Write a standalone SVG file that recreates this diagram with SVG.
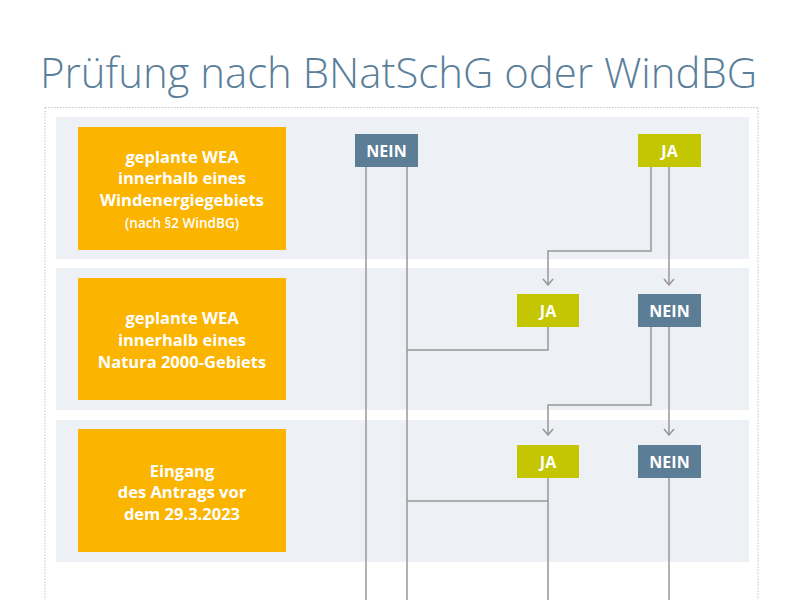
<svg xmlns="http://www.w3.org/2000/svg" width="800" height="600" viewBox="0 0 800 600">
<defs>
<style>
.band{fill:#edf0f5}
.q{fill:#fbb400}
.qt{fill:#fff;font-family:"Open Sans","Liberation Sans",sans-serif;font-weight:700;font-size:16.5px;text-anchor:middle}
.qs{font-size:13.5px;font-weight:600}
.ja{fill:#c3c600}
.nein{fill:#5b7d96}
.bt{fill:#fff;font-family:"Open Sans","Liberation Sans",sans-serif;font-weight:700;font-size:16px;text-anchor:middle}
.ln{fill:none;stroke:#9b9597;stroke-width:1.5}
</style>
<marker id="arr" viewBox="0 0 10 12" refX="9" refY="6" markerWidth="10" markerHeight="12" markerUnits="userSpaceOnUse" orient="auto">
<path d="M3,1 L9,6 L3,11" fill="none" stroke="#9b9597" stroke-width="1.5"/>
</marker>
</defs>
<rect width="800" height="600" fill="#fff"/>
<text x="40" y="88" font-family="'Open Sans','Liberation Sans',sans-serif" font-size="42" font-weight="300" fill="#5b7f9a" textLength="717" lengthAdjust="spacingAndGlyphs">Prüfung nach BNatSchG oder WindBG</text>
<path d="M45,107.5 H758 M45,107.5 V600 M758,107.5 V600" fill="none" stroke="#bcc5d0" stroke-width="1" stroke-dasharray="1.5,1.5"/>
<rect class="band" x="56" y="117" width="693" height="142"/>
<rect class="band" x="56" y="268" width="693" height="142"/>
<rect class="band" x="56" y="420" width="693" height="142"/>
<g id="connectors">
<path class="ln" d="M366,167 V600"/>
<path class="ln" d="M407,167 V600"/>
<path class="ln" d="M651,167 V251 H548 V285" marker-end="url(#arr)"/>
<path class="ln" d="M669,167 V285" marker-end="url(#arr)"/>
<path class="ln" d="M548,327 V350 H407"/>
<path class="ln" d="M651,327 V405 H548 V435" marker-end="url(#arr)"/>
<path class="ln" d="M669,327 V435" marker-end="url(#arr)"/>
<path class="ln" d="M548,478 V600 M548,501 H407"/>
<path class="ln" d="M669,478 V600"/>
</g>
<g id="q1">
<rect class="q" x="78" y="127" width="208" height="123"/>
<text class="qt" x="182" y="163">geplante WEA</text>
<text class="qt" x="182" y="184">innerhalb eines</text>
<text class="qt" x="182" y="206">Windenergiegebiets</text>
<text class="qt qs" x="182" y="228">(nach §2 WindBG)</text>
</g>
<g id="q2">
<rect class="q" x="78" y="278" width="208" height="122"/>
<text class="qt" x="182" y="324">geplante WEA</text>
<text class="qt" x="182" y="346">innerhalb eines</text>
<text class="qt" x="182" y="368">Natura 2000-Gebiets</text>
</g>
<g id="q3">
<rect class="q" x="78" y="429" width="208" height="123"/>
<text class="qt" x="182" y="477">Eingang</text>
<text class="qt" x="182" y="498">des Antrags vor</text>
<text class="qt" x="182" y="520">dem 29.3.2023</text>
</g>
<g id="nein1"><rect class="nein" x="355" y="134" width="63" height="33"/><text class="bt" x="386.5" y="156.5">NEIN</text></g>
<g id="ja1"><rect class="ja" x="638" y="134" width="63" height="33"/><text class="bt" x="669.5" y="156.5">JA</text></g>
<g id="ja2"><rect class="ja" x="517" y="294" width="62" height="33"/><text class="bt" x="548" y="316.5">JA</text></g>
<g id="nein2"><rect class="nein" x="638" y="294" width="63" height="33"/><text class="bt" x="669.5" y="316.5">NEIN</text></g>
<g id="ja3"><rect class="ja" x="517" y="445" width="62" height="33"/><text class="bt" x="548" y="467.5">JA</text></g>
<g id="nein3"><rect class="nein" x="638" y="445" width="63" height="33"/><text class="bt" x="669.5" y="467.5">NEIN</text></g>
</svg>
